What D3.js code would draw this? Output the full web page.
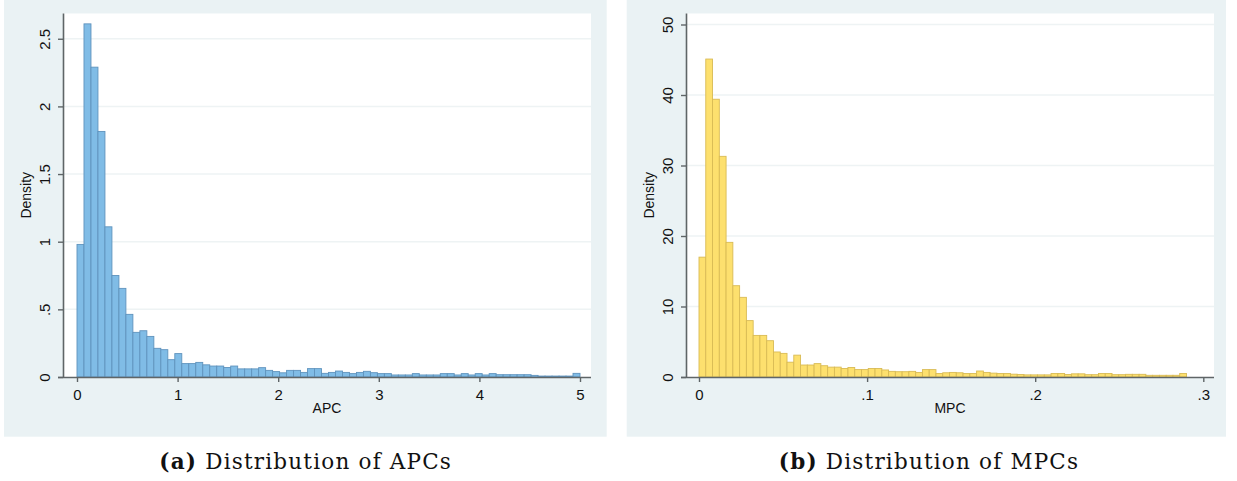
<!DOCTYPE html>
<html>
<head>
<meta charset="utf-8">
<script src="https://cdn.jsdelivr.net/npm/d3@7"></script>
<style>
  html, body { margin: 0; padding: 0; background: #ffffff; }
  svg { display: block; }
</style>
</head>
<body>
<svg id="chart" width="1237" height="481"></svg>
<script>
// ---------- DATA ----------
// APC histogram: 72 equal bins from 0 to 5
const apcBinStart = 0;
const apcBinEnd = 5;
const apcDensity = [
  0.98, 2.61, 2.29, 1.815, 1.11, 0.75, 0.655, 0.463, 0.33, 0.342,
  0.30, 0.212, 0.202, 0.128, 0.173, 0.099, 0.099, 0.108, 0.090, 0.081,
  0.081, 0.070, 0.081, 0.060, 0.060, 0.060, 0.069, 0.049, 0.040, 0.031,
  0.049, 0.049, 0.034, 0.062, 0.062, 0.027, 0.034, 0.044, 0.034, 0.025,
  0.034, 0.042, 0.032, 0.025, 0.025, 0.015, 0.015, 0.015, 0.025, 0.015,
  0.015, 0.015, 0.025, 0.025, 0.015, 0.025, 0.015, 0.025, 0.015, 0.025,
  0.017, 0.017, 0.017, 0.017, 0.017, 0.012, 0.007, 0.007, 0.007, 0.007,
  0.007, 0.027
];
const apcXTicks = [0, 1, 2, 3, 4, 5];
const apcXTickLabels = ["0", "1", "2", "3", "4", "5"];
const apcYTicks = [0, 0.5, 1, 1.5, 2, 2.5];
const apcYTickLabels = ["0", ".5", "1", "1.5", "2", "2.5"];

// MPC histogram: 72 equal bins from 0 to 0.29
const mpcBinStart = 0;
const mpcBinEnd = 0.29;
const mpcDensity = [
  17.0, 45.1, 39.4, 31.3, 19.1, 12.95, 11.3, 8.0, 5.9, 5.9,
  5.15, 3.55, 3.35, 2.1, 3.1, 1.7, 1.7, 1.9, 1.6, 1.4,
  1.4, 1.2, 1.35, 1.05, 1.05, 1.2, 1.2, 1.0, 0.8, 0.75,
  0.75, 0.8, 0.65, 1.05, 1.05, 0.5, 0.6, 0.65, 0.6, 0.5,
  0.5, 0.85, 0.65, 0.55, 0.5, 0.5, 0.4, 0.35, 0.3, 0.3,
  0.3, 0.3, 0.5, 0.5, 0.35, 0.45, 0.45, 0.33, 0.33, 0.5,
  0.5, 0.33, 0.33, 0.38, 0.38, 0.38, 0.24, 0.24, 0.24, 0.24,
  0.24, 0.5
];
const mpcXTicks = [0, 0.1, 0.2, 0.3];
const mpcXTickLabels = ["0", ".1", ".2", ".3"];
const mpcYTicks = [0, 10, 20, 30, 40, 50];
const mpcYTickLabels = ["0", "10", "20", "30", "40", "50"];

const panelTitles = [["(a)", "Distribution of APCs"], ["(b)", "Distribution of MPCs"]];
const xTitles = ["APC", "MPC"];
const yTitle = "Density";

// ---------- DRAW ----------
const svg = d3.select("#chart");
const sans = "'Liberation Sans', Arial, Helvetica, sans-serif";
const serif = "'DejaVu Serif', 'Liberation Serif', serif";

function drawPanel(cfg) {
  const g = svg.append("g");
  // panel background
  g.append("rect")
    .attr("x", cfg.panel[0]).attr("y", cfg.panel[1])
    .attr("width", cfg.panel[2] - cfg.panel[0]).attr("height", cfg.panel[3] - cfg.panel[1])
    .attr("fill", "#eaf2f4");
  // plot region
  g.append("rect")
    .attr("x", cfg.plot[0]).attr("y", cfg.plot[1])
    .attr("width", cfg.plot[2] - cfg.plot[0]).attr("height", cfg.plot[3] - cfg.plot[1])
    .attr("fill", "#ffffff");

  const x = d3.scaleLinear().domain(cfg.xDomain).range(cfg.xRange);
  const y = d3.scaleLinear().domain(cfg.yDomain).range(cfg.yRange);

  // gridlines
  g.append("g").selectAll("line")
    .data(cfg.yTicks.filter(v => v !== 0))
    .join("line")
    .attr("x1", cfg.plot[0] + 1).attr("x2", cfg.plot[2])
    .attr("y1", d => y(d)).attr("y2", d => y(d))
    .attr("stroke", "#eef3f4").attr("stroke-width", 1.5);

  // bars
  const n = cfg.values.length;
  const w = (cfg.binEnd - cfg.binStart) / n;
  const bins = cfg.values.map((v, i) => ({ x0: cfg.binStart + i * w, x1: cfg.binStart + (i + 1) * w, v }));
  g.append("g").selectAll("rect")
    .data(bins)
    .join("rect")
    .attr("x", d => x(d.x0))
    .attr("width", d => x(d.x1) - x(d.x0))
    .attr("y", d => y(d.v))
    .attr("height", d => y(0) - y(d.v))
    .attr("fill", cfg.fill)
    .attr("stroke", cfg.stroke)
    .attr("stroke-width", 0.9);

  // axes
  const axisColor = "#5f6567";
  const xAxis = d3.axisBottom(x).tickValues(cfg.xTicks)
    .tickFormat((d, i) => cfg.xTickLabels[i]).tickSize(5).tickPadding(7);
  const gx = g.append("g").attr("transform", `translate(0,${cfg.plot[3]})`).call(xAxis);
  gx.select(".domain").attr("d", `M${cfg.plot[0] - 5},0.5H${cfg.plot[2]}`)
    .attr("stroke", axisColor).attr("stroke-width", 1.6);
  gx.selectAll(".tick line").attr("stroke", axisColor).attr("stroke-width", 1.4);
  gx.selectAll(".tick text").attr("font-family", sans).attr("font-size", 15).attr("fill", "#111");

  const yAxis = d3.axisLeft(y).tickValues(cfg.yTicks)
    .tickFormat((d, i) => cfg.yTickLabels[i]).tickSize(5).tickPadding(0);
  const gy = g.append("g").attr("transform", `translate(${cfg.plot[0]},0)`).call(yAxis);
  gy.select(".domain").attr("d", `M0.5,${cfg.plot[1]}V${cfg.plot[3]}`)
    .attr("stroke", axisColor).attr("stroke-width", 1.6);
  gy.selectAll(".tick line").attr("stroke", axisColor).attr("stroke-width", 1.4);
  gy.selectAll(".tick text")
    .attr("font-family", sans).attr("font-size", 15).attr("fill", "#111")
    .attr("x", null).attr("dy", null)
    .attr("text-anchor", "middle")
    .attr("transform", "translate(-13.5,0) rotate(-90)");

  // axis titles
  g.append("text")
    .attr("x", (cfg.plot[0] + cfg.plot[2]) / 2).attr("y", cfg.plot[3] + 36)
    .attr("text-anchor", "middle").attr("font-family", sans).attr("font-size", 14)
    .attr("fill", "#111").text(cfg.xTitle);
  g.append("text")
    .attr("transform", `translate(${cfg.yTitleX},${(cfg.plot[1] + cfg.plot[3]) / 2}) rotate(-90)`)
    .attr("text-anchor", "middle").attr("font-family", sans).attr("font-size", 14)
    .attr("fill", "#111").text(yTitle);

  // caption
  const cap = g.append("text")
    .attr("x", cfg.capCenter).attr("y", 468.5)
    .attr("text-anchor", "middle").attr("font-family", serif).attr("font-size", 21.5)
    .attr("fill", "#111");
  cap.append("tspan").attr("font-weight", "bold").text(cfg.title[0]);
  cap.append("tspan").text(" " + cfg.title[1]);
  // fit caption width to the reference span via letter spacing
  const measured = cap.node().getComputedTextLength();
  const chars = (cfg.title[0] + " " + cfg.title[1]).length;
  const ls = Math.max(-1, Math.min(1.2, (cfg.capWidth - measured) / chars));
  cap.attr("letter-spacing", ls.toFixed(2));
}

drawPanel({
  panel: [4, 0, 606.7, 436.7],
  plot: [63, 13.5, 591, 377],
  xDomain: [0, 5], xRange: [77, 580],
  yDomain: [0, 2.5], yRange: [377, 38.75],
  values: apcDensity, binStart: apcBinStart, binEnd: apcBinEnd,
  xTicks: apcXTicks, xTickLabels: apcXTickLabels,
  yTicks: apcYTicks, yTickLabels: apcYTickLabels,
  fill: "#80bce6", stroke: "#5f93bd",
  xTitle: xTitles[0], yTitleX: 31, title: panelTitles[0],
  capCenter: 305.7, capWidth: 295
});

drawPanel({
  panel: [626.7, 0, 1226, 436.7],
  plot: [686, 13.5, 1214, 377],
  xDomain: [0, 0.3], xRange: [699, 1203.3],
  yDomain: [0, 50], yRange: [377, 24.5],
  values: mpcDensity, binStart: mpcBinStart, binEnd: mpcBinEnd,
  xTicks: mpcXTicks, xTickLabels: mpcXTickLabels,
  yTicks: mpcYTicks, yTickLabels: mpcYTickLabels,
  fill: "#fde06e", stroke: "#d9bb55",
  xTitle: xTitles[1], yTitleX: 654, title: panelTitles[1],
  capCenter: 929, capWidth: 302
});
</script>
</body>
</html>
